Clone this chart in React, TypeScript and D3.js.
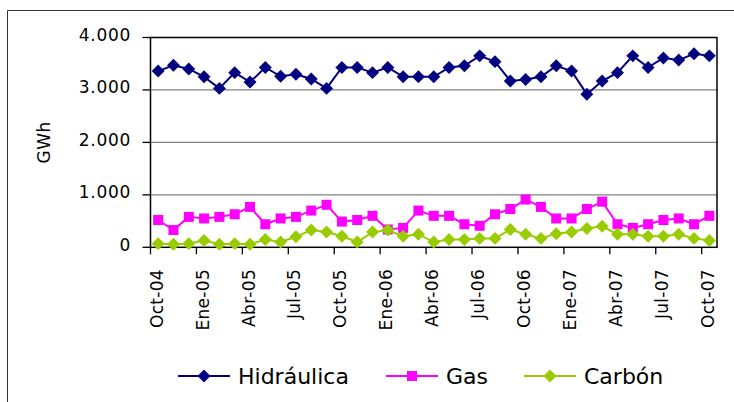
import * as d3 from 'd3';

// Categorías mensuales (Oct-04 .. Oct-07)
const categories = [
  'Oct-04', 'Nov-04', 'Dic-04', 'Ene-05', 'Feb-05', 'Mar-05', 'Abr-05', 'May-05', 'Jun-05',
  'Jul-05', 'Ago-05', 'Sep-05', 'Oct-05', 'Nov-05', 'Dic-05', 'Ene-06', 'Feb-06', 'Mar-06',
  'Abr-06', 'May-06', 'Jun-06', 'Jul-06', 'Ago-06', 'Sep-06', 'Oct-06', 'Nov-06', 'Dic-06',
  'Ene-07', 'Feb-07', 'Mar-07', 'Abr-07', 'May-07', 'Jun-07', 'Jul-07', 'Ago-07', 'Sep-07',
  'Oct-07'
];

const hidraulica = [
  3360, 3470, 3400, 3250, 3030, 3330, 3150, 3430, 3260, 3300, 3210, 3030, 3430,
  3430, 3330, 3430, 3250, 3250, 3250, 3430, 3460, 3650, 3540, 3170, 3200, 3250,
  3460, 3360, 2920, 3170, 3330, 3650, 3430, 3610, 3570, 3690, 3650
];

const gas = [
  520, 330, 580, 550, 580, 630, 770, 440, 550, 580, 700, 810, 490,
  520, 600, 340, 370, 700, 600, 600, 440, 410, 630, 730, 910, 770,
  550, 550, 730, 870, 440, 370, 440, 520, 550, 440, 600
];

const carbon = [
  70, 60, 70, 130, 60, 70, 60, 150, 100, 200, 330, 290, 210,
  100, 290, 330, 210, 250, 100, 150, 150, 170, 170, 340, 250, 170,
  260, 290, 360, 400, 250, 250, 210, 210, 250, 170, 130
];

const yTicks = [0, 1000, 2000, 3000, 4000];

const series = [
  { name: 'Hidráulica', values: hidraulica, color: '#000080', shape: 'diamond' },
  { name: 'Gas', values: gas, color: '#FF00FF', shape: 'square' },
  { name: 'Carbón', values: carbon, color: '#99CC00', shape: 'diamond' }
];

const W = 734;
const H = 402;
const plot = { left: 150.5, right: 717, top: 37.5, bottom: 247.3 };
const font = '"DejaVu Sans", Verdana, sans-serif';

function markerPath(shape: string) {
  if (shape === 'square') return d3.symbol(d3.symbolSquare, 100)() as string;
  return d3.symbol(d3.symbolSquare, 84)() as string;
}

export default function App() {
  const x = d3.scaleBand<string>().domain(categories).range([plot.left, plot.right]).padding(0);
  const y = d3.scaleLinear().domain([0, 4000]).range([plot.bottom, plot.top]);
  const cx = (c: string) => (x(c) as number) + x.bandwidth() / 2;
  const fmt = (v: number) => (v === 0 ? '0' : d3.format(',')(v).replace(',', '.'));

  const labelled = categories.filter((_, i) => i % 3 === 0);

  const legendItems = [
    { s: series[0], x0: 178, text: 238 },
    { s: series[1], x0: 386, text: 446 },
    { s: series[2], x0: 524, text: 584 }
  ];

  return (
    <svg width={W} height={H} style={{ position: 'absolute', left: 0, top: 0, background: '#fff' }}>
      {/* marco exterior */}
      <path d={`M7.5,${H} V10.5 H${W}`} fill="none" stroke="#333" strokeWidth={1} />

      {/* cuadrícula */}
      {yTicks.filter(t => t > 0 && t < 4000).map(t => (
        <line key={t} x1={plot.left} x2={plot.right} y1={y(t)} y2={y(t)} stroke="#808080" strokeWidth={1.3} />
      ))}

      {/* borde del área */}
      <rect x={plot.left} y={plot.top} width={plot.right - plot.left} height={plot.bottom - plot.top}
        fill="none" stroke="#000" strokeWidth={1.5} />

      {/* eje Y */}
      {yTicks.map(t => (
        <g key={t}>
          <line x1={plot.left - 8} x2={plot.left} y1={y(t)} y2={y(t)} stroke="#000" strokeWidth={1.3} />
          <text x={131} y={y(t) + 3.5} textAnchor="end" fontFamily={font} fontSize={17}
            letterSpacing={0.7} fill="#000">{fmt(t)}</text>
        </g>
      ))}
      <text transform={`translate(50,${(plot.top + plot.bottom) / 2}) rotate(-90)`} textAnchor="middle"
        fontFamily={font} fontSize={17} letterSpacing={0.4} fill="#000">GWh</text>

      {/* eje X */}
      {labelled.map(c => (
        <g key={c}>
          <line x1={x(c) as number} x2={x(c) as number} y1={plot.bottom} y2={plot.bottom + 7} stroke="#000" strokeWidth={1.3} />
          <text transform={`translate(${cx(c) + 4.5},269) rotate(-90)`} textAnchor="end"
            fontFamily={font} fontSize={17} letterSpacing={0.3} fill="#000">{c}</text>
        </g>
      ))}

      {/* series */}
      {series.map(s => {
        const line = d3.line<number>().x((_, i) => cx(categories[i])).y(v => y(v));
        return (
          <g key={s.name}>
            <path d={line(s.values) as string} fill="none" stroke={s.color} strokeWidth={2} />
            {s.values.map((v, i) => (
              <path key={i} d={markerPath(s.shape)}
                transform={`translate(${cx(categories[i])},${y(v)})${s.shape === 'diamond' ? ' rotate(45)' : ''}`}
                fill={s.color} />
            ))}
          </g>
        );
      })}

      {/* leyenda */}
      {legendItems.map(({ s, x0, text }) => (
        <g key={s.name}>
          <line x1={x0} x2={x0 + 52} y1={376} y2={376} stroke={s.color} strokeWidth={2} />
          <path d={markerPath(s.shape)}
            transform={`translate(${x0 + 26},376)${s.shape === 'diamond' ? ' rotate(45)' : ''}`} fill={s.color} />
          <text x={text} y={384} fontFamily={font} fontSize={22} fill="#000">{s.name}</text>
        </g>
      ))}
    </svg>
  );
}
